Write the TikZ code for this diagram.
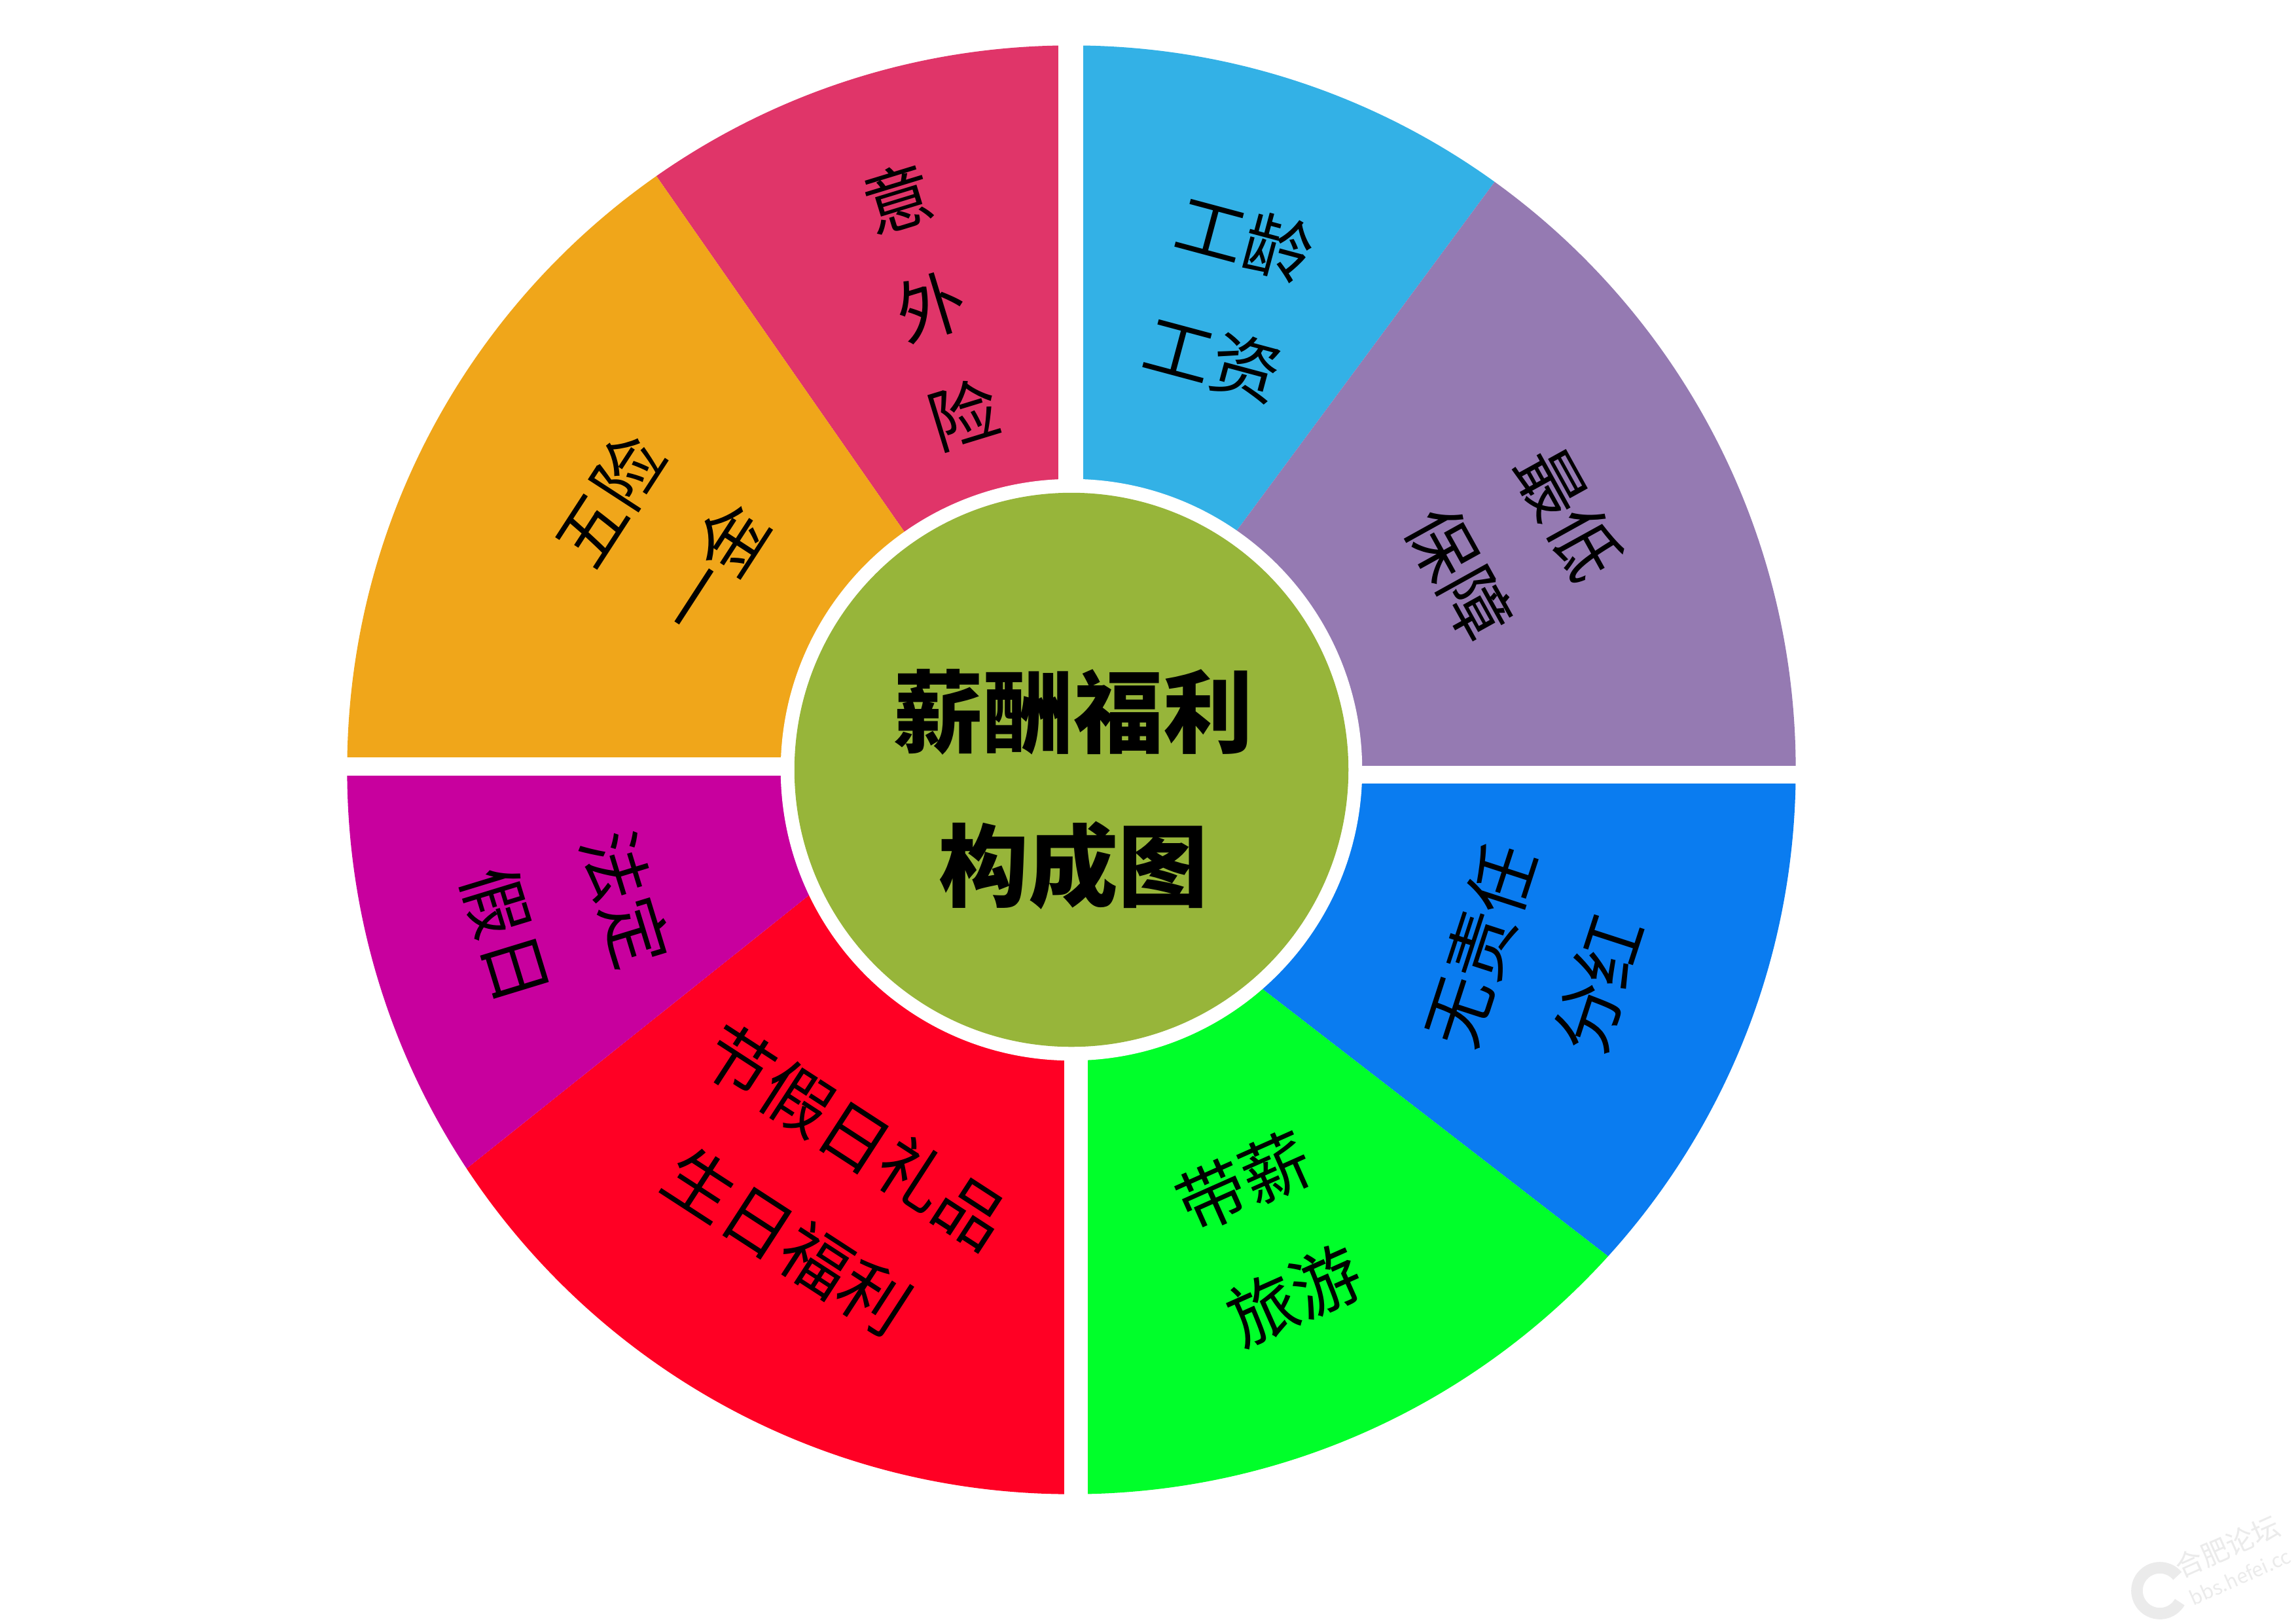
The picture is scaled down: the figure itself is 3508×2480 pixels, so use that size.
\documentclass[tikz,border=0pt]{standalone}
\usepackage{fontspec}
\setmainfont{Noto Sans CJK SC}
\definecolor{cPink}{HTML}{E03569}
\definecolor{cCyan}{HTML}{33B1E6}
\definecolor{cPurple}{HTML}{957AB2}
\definecolor{cBlue}{HTML}{0A7CF0}
\definecolor{cGreen}{HTML}{00FF2A}
\definecolor{cRed}{HTML}{FF0024}
\definecolor{cMag}{HTML}{C8009E}
\definecolor{cOrange}{HTML}{F0A61A}
\definecolor{cCenter}{HTML}{97B53A}
\begin{document}
\begin{tikzpicture}[x=0.01cm,y=-0.01cm,
  lbl/.style={font=\fontsize{30pt}{54pt}\selectfont, align=center, text=black, inner sep=0pt},
  ctr/.style={font=\fontsize{39pt}{67pt}\selectfont\bfseries, align=center, text=black, inner sep=0pt},
  wm/.style={text=black!8, inner sep=0pt}]
\useasboundingbox (0,0) rectangle (3508,2480);
\fill[white] (0,0) rectangle (3508,2480);
\coordinate (C) at (1637,1176);
\begin{scope}
  \clip (C) circle[radius=11.06cm];
  % top-left quadrant
  \fill[cPink] (C) -- (1569,1081) -- (641,-250) -- (1637,-250) -- cycle;
  \fill[cOrange] (C) -- (-200,1176) -- (-200,-250) -- (641,-250) -- (1569,1081) -- cycle;
  % top-right quadrant
  \fill[cCyan] (C) -- (1694,1075) -- (2674,-250) -- (1637,-250) -- cycle;
  \fill[cPurple] (C) -- (1694,1075) -- (2674,-250) -- (3300,-250) -- (3300,1176) -- cycle;
  % bottom-right quadrant
  \fill[cBlue] (C) -- (3300,1176) -- (3300,2571) -- (1691,1327) -- cycle;
  \fill[cGreen] (C) -- (1691,1327) -- (3300,2571) -- (3300,2700) -- (1637,2700) -- cycle;
  % bottom-left quadrant
  \fill[cRed] (C) -- (1637,2700) -- (-200,2700) -- (-200,2514) -- (1481,1172) -- cycle;
  \fill[cMag] (C) -- (1481,1172) -- (-200,2514) -- (-200,1176) -- cycle;
\end{scope}
% white gaps between quadrants
\fill[white] (1617,-10) rectangle (1655,1176);
\fill[white] (1626,1176) rectangle (1662,2500);
\fill[white] (-10,1157) rectangle (1637,1185);
\fill[white] (1637,1170) rectangle (3600,1197);
% centre
\fill[white] (C) circle[radius=4.44cm];
\fill[cCenter] (C) circle[radius=4.23cm];
\node[ctr] (centre) at (1640,1206) {薪酬福利\\构成图};
% labels
\node[lbl, font=\fontsize{30pt}{49pt}\selectfont, rotate=17] (t1) at (1422,468) {意\\外\\险};
\node[lbl, rotate=57] (t2) at (1009,815) {五险\\一金};
\node[lbl, rotate=-15] (t3) at (1877,456) {工龄\\工资};
\node[lbl, rotate=-61] (t4) at (2313,830) {最低\\保障};
\node[lbl, rotate=72] (t5) at (2352,1474) {无责任\\分红};
\node[lbl, rotate=24] (t6) at (1939,1892) {带薪\\旅游};
\node[lbl, rotate=-33] (t7) at (1255,1816) {节假日礼品\\生日福利};
\node[lbl, rotate=-73] (t8) at (865,1401) {法定\\假日};
% watermark
\draw[black!8, line width=5pt] (3300,2430) ++(40:0.35cm) arc[start angle=40, end angle=330, radius=0.35cm];
\node[wm, align=left, font=\fontsize{12pt}{13pt}\selectfont, rotate=24] (wm1) at (3412,2382)
  {合肥论坛\\{\fontsize{8.5pt}{13pt}\selectfont bbs.hefei.cc}};
\end{tikzpicture}
\end{document}
